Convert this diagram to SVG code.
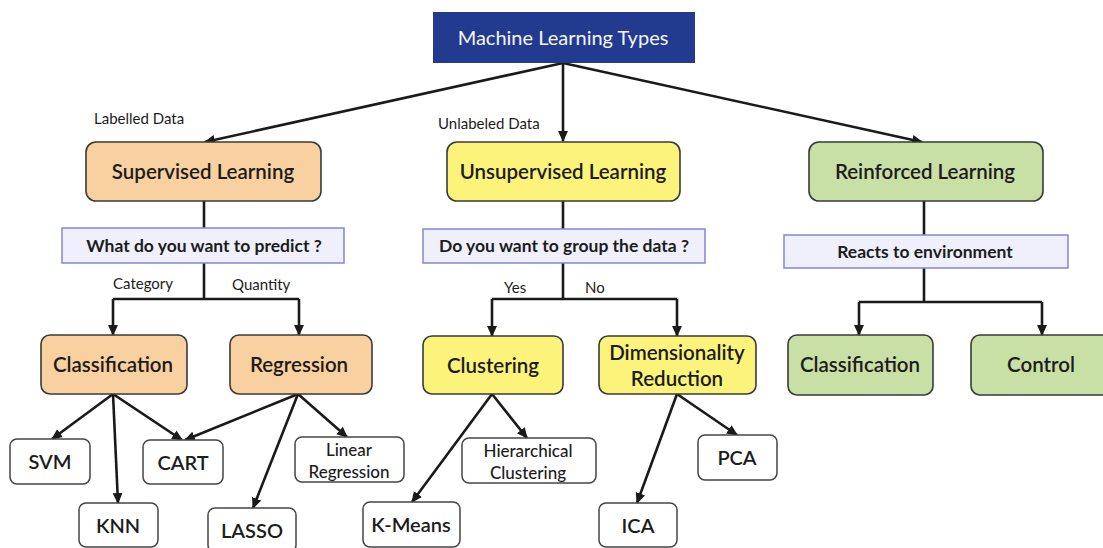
<svg xmlns="http://www.w3.org/2000/svg" width="1103" height="548" viewBox="0 0 1103 548">
  <style>
    text { font-family: Lato, "Liberation Sans", sans-serif; fill: #1c1c1c; text-anchor: middle; }
    .main { font-size: 20.5px; font-weight: 600; }
    .leaf { font-size: 20px; font-weight: 600; }
    .leaf2 { font-size: 17px; font-weight: 500; }
    .q { font-size: 17.5px; font-weight: bold; }
    .lbl { font-size: 15px; text-anchor: start; }
    .title { font-size: 20px; fill: #f4f6ff; }
    .orange { fill: #f9d09f; stroke: #3a3a3a; stroke-width: 1.6; }
    .yellow { fill: #fcf37a; stroke: #3a3a3a; stroke-width: 1.6; }
    .green { fill: #c8dfa6; stroke: #3a3a3a; stroke-width: 1.6; }
    .white { fill: #ffffff; stroke: #444; stroke-width: 1.5; }
    .qbox { fill: #eff0fb; stroke: #8585d6; stroke-width: 1.5; }
    .c { fill: none; stroke: #1a1a1a; stroke-width: 2.6; }
    .a { fill: none; stroke: #1a1a1a; stroke-width: 2.6; marker-end: url(#arr); }
  </style>
  <defs>
    <marker id="arr" viewBox="0 0 10 10" refX="9" refY="5" markerWidth="11" markerHeight="11" markerUnits="userSpaceOnUse" orient="auto">
      <path d="M0,0.5 L10,5 L0,9.5 z" fill="#1a1a1a"/>
    </marker>
  </defs>

  <rect width="1103" height="548" fill="#ffffff"/>

  <!-- connectors -->
  <g id="connectors">
    <line class="a" x1="563" y1="63" x2="205" y2="142"/>
    <line class="a" x1="563" y1="63" x2="563" y2="141"/>
    <line class="a" x1="563" y1="63" x2="922" y2="142"/>

    <line class="c" x1="204" y1="201" x2="204" y2="228"/>
    <line class="c" x1="204" y1="263" x2="204" y2="299"/>
    <line class="c" x1="113" y1="299" x2="299" y2="299"/>
    <line class="a" x1="113" y1="299" x2="113" y2="335"/>
    <line class="a" x1="299" y1="299" x2="299" y2="335"/>

    <line class="c" x1="563" y1="201" x2="563" y2="229"/>
    <line class="c" x1="563" y1="263" x2="563" y2="299"/>
    <line class="c" x1="492" y1="299" x2="677" y2="299"/>
    <line class="a" x1="492" y1="299" x2="492" y2="336"/>
    <line class="a" x1="677" y1="299" x2="677" y2="336"/>

    <line class="c" x1="924" y1="201" x2="924" y2="235"/>
    <line class="c" x1="924" y1="268" x2="924" y2="302"/>
    <line class="c" x1="859" y1="302" x2="1042" y2="302"/>
    <line class="a" x1="859" y1="302" x2="859" y2="335"/>
    <line class="a" x1="1042" y1="302" x2="1042" y2="335"/>

    <line class="a" x1="113" y1="394" x2="52" y2="439"/>
    <line class="a" x1="113" y1="394" x2="118" y2="503"/>
    <line class="a" x1="113" y1="394" x2="182" y2="440"/>
    <line class="a" x1="298" y1="394" x2="185" y2="440"/>
    <line class="a" x1="298" y1="394" x2="253" y2="508"/>
    <line class="a" x1="298" y1="394" x2="347" y2="437"/>

    <line class="a" x1="492" y1="394" x2="412" y2="502"/>
    <line class="a" x1="492" y1="394" x2="527" y2="438"/>
    <line class="a" x1="677" y1="394" x2="637" y2="503"/>
    <line class="a" x1="677" y1="394" x2="737" y2="435"/>
  </g>

  <!-- edge labels -->
  <g id="labels">
    <text class="lbl" x="94" y="124">Labelled Data</text>
    <text class="lbl" x="438" y="129">Unlabeled Data</text>
    <text class="lbl" x="113" y="289">Category</text>
    <text class="lbl" x="232" y="290">Quantity</text>
    <text class="lbl" x="504" y="293">Yes</text>
    <text class="lbl" x="585" y="293">No</text>
  </g>

  <g id="ml-types">
    <rect x="433" y="12" width="262" height="51" fill="#233b8e"/>
    <text class="title" x="563" y="45">Machine Learning Types</text>
  </g>

  <g id="supervised">
    <rect class="orange" x="86" y="142" width="235" height="59" rx="10"/>
    <text class="main" x="203" y="179">Supervised Learning</text>
  </g>
  <g id="q-predict">
    <rect class="qbox" x="62" y="228" width="282" height="35"/>
    <text class="q" x="204" y="252">What do you want to predict ?</text>
  </g>
  <g id="classification">
    <rect class="orange" x="41" y="335" width="146" height="59" rx="9"/>
    <text class="main" x="113" y="372">Classification</text>
  </g>
  <g id="regression">
    <rect class="orange" x="230" y="335" width="142" height="59" rx="9"/>
    <text class="main" x="299" y="372">Regression</text>
  </g>
  <g id="svm">
    <rect class="white" x="10" y="439" width="80" height="45" rx="7"/>
    <text class="leaf" x="50" y="469">SVM</text>
  </g>
  <g id="knn">
    <rect class="white" x="79" y="503" width="79" height="44" rx="7"/>
    <text class="leaf" x="118" y="533">KNN</text>
  </g>
  <g id="cart">
    <rect class="white" x="143" y="440" width="80" height="44" rx="7"/>
    <text class="leaf" x="183" y="470">CART</text>
  </g>
  <g id="lasso">
    <rect class="white" x="208" y="508" width="88" height="44" rx="7"/>
    <text class="leaf" x="252" y="538">LASSO</text>
  </g>
  <g id="linear-regression">
    <rect class="white" x="295" y="437" width="109" height="45" rx="7"/>
    <text class="leaf2" x="349" y="456">Linear</text>
    <text class="leaf2" x="349" y="478">Regression</text>
  </g>

  <g id="unsupervised">
    <rect class="yellow" x="447" y="142" width="233" height="59" rx="10"/>
    <text class="main" x="563" y="179">Unsupervised Learning</text>
  </g>
  <g id="q-group">
    <rect class="qbox" x="423" y="229" width="282" height="34"/>
    <text class="q" x="564" y="252">Do you want to group the data ?</text>
  </g>
  <g id="clustering">
    <rect class="yellow" x="423" y="336" width="140" height="58" rx="9"/>
    <text class="main" x="493" y="373">Clustering</text>
  </g>
  <g id="dimensionality-reduction">
    <rect class="yellow" x="599" y="336" width="157" height="58" rx="9"/>
    <text class="main" x="677" y="360">Dimensionality</text>
    <text class="main" x="677" y="386">Reduction</text>
  </g>
  <g id="k-means">
    <rect class="white" x="363" y="502" width="97" height="45" rx="7"/>
    <text class="leaf" x="411" y="532">K-Means</text>
  </g>
  <g id="hierarchical-clustering">
    <rect class="white" x="462" y="438" width="134" height="45" rx="7"/>
    <text class="leaf2" x="528" y="457">Hierarchical</text>
    <text class="leaf2" x="528" y="479">Clustering</text>
  </g>
  <g id="ica">
    <rect class="white" x="599" y="503" width="78" height="44" rx="7"/>
    <text class="leaf" x="638" y="533">ICA</text>
  </g>
  <g id="pca">
    <rect class="white" x="698" y="435" width="79" height="45" rx="7"/>
    <text class="leaf" x="737" y="465">PCA</text>
  </g>

  <g id="reinforced">
    <rect class="green" x="809" y="142" width="234" height="59" rx="10"/>
    <text class="main" x="925" y="179">Reinforced Learning</text>
  </g>
  <g id="q-environment">
    <rect class="qbox" x="784" y="235" width="284" height="33"/>
    <text class="q" x="925" y="258">Reacts to environment</text>
  </g>
  <g id="rl-classification">
    <rect class="green" x="788" y="335" width="145" height="60" rx="9"/>
    <text class="main" x="860" y="372">Classification</text>
  </g>
  <g id="control">
    <rect class="green" x="971" y="335" width="140" height="60" rx="9"/>
    <text class="main" x="1041" y="372">Control</text>
  </g>
</svg>
